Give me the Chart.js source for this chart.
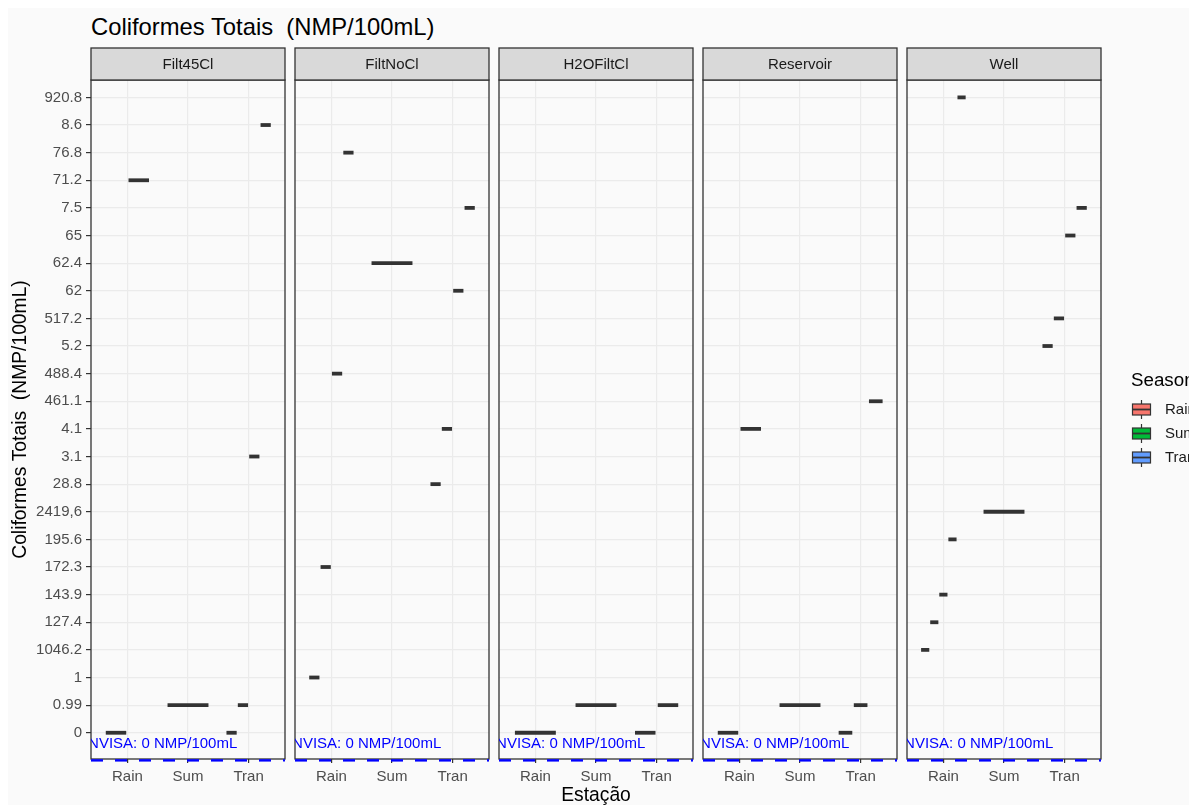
<!DOCTYPE html>
<html>
<head>
<meta charset="utf-8">
<title>Coliformes Totais (NMP/100mL)</title>
<script src="https://cdn.jsdelivr.net/npm/chart.js@4/dist/chart.umd.min.js"></script>
<style>
  html, body { margin: 0; padding: 0; width: 1189px; height: 805px; overflow: hidden; background: #ffffff; }
  body { position: relative; font-family: "Liberation Sans", Arial, sans-serif; }
  #sheet { position: absolute; left: 8px; top: 8px; width: 1181px; height: 797px; background: #FAFAFA; }
  #title { position: absolute; left: 91px; top: 15px; font-size: 23.8px; line-height: 24px; color: #000; white-space: pre; }
  canvas { position: absolute; top: 0; }
</style>
</head>
<body>
<div id="sheet"></div>
<div id="title">Coliformes Totais  (NMP/100mL)</div>
<script>
// y categories (the values are read as text, so they sort as strings)
const categories = ["0", "0.99", "1", "1046.2", "127.4", "143.9", "172.3", "195.6", "2419,6",
  "28.8", "3.1", "4.1", "461.1", "488.4", "5.2", "517.2", "62", "62.4", "65", "7.5",
  "71.2", "76.8", "8.6", "920.8"];
const stations = ["Rain", "Sum", "Tran"];
const facets = ["Filt45Cl", "FiltNoCl", "H2OFiltCl", "Reservoir", "Well"];

// samples per station (Rain, Sum, Tran) for each sampling point
const filt45Cl  = [["0", "71.2"], ["0.99"], ["0", "0.99", "3.1", "8.6"]];
const filtNoCl  = [["1", "172.3", "488.4", "76.8"], ["62.4"], ["28.8", "4.1", "62", "7.5"]];
const h2oFiltCl = [["0"], ["0.99"], ["0", "0.99"]];
const reservoir = [["0", "4.1"], ["0.99"], ["0", "0.99", "461.1"]];
const well      = [["1046.2", "127.4", "143.9", "195.6", "920.8"], ["2419,6"], ["5.2", "517.2", "65", "7.5"]];
const facetData = [filt45Cl, filtNoCl, h2oFiltCl, reservoir, well];

const seasons = ["Rain", "Sum", "Tran"];
const seasonColors = ["#F8766D", "#00BA38", "#619CFF"];

const anvisaLabel = "ANVISA: 0 NMP/100mL";
const anvisaLine = -1;            // reference line one step below the first category
const anvisaTextPos = { x: 1.5, y: -0.39 };

// layout
const FONT = '"Liberation Sans", Arial, sans-serif';
const panelLefts = [91, 295, 499, 703, 907];
const PANEL_W = 194, PANEL_TOP = 80, STRIP_TOP = 48, AXIS_H = 46, Y_AXIS_W = 91, EDGE = 6;
const PAGE_W = 1189, PAGE_H = 805;
const DODGE = 0.75, SHRINK = 0.9;

Chart.defaults.font.family = FONT;

// dodged, zero-height boxes: one short thick segment per sample
function boxDatasets(groups) {
  const sets = [];
  groups.forEach((vals, s) => {
    const n = vals.length, slot = DODGE / n;
    vals.forEach((v, k) => {
      const y = categories.indexOf(v);
      const c = s + 1 - DODGE / 2 + (k + 0.5) * slot;
      const hw = slot * SHRINK / 2;
      sets.push({
        data: [{ x: c - hw, y: y }, { x: c + hw, y: y }],
        borderColor: "#333333", borderWidth: 3.8, borderCapStyle: "butt",
        pointRadius: 0, fill: false, tension: 0
      });
    });
  });
  return sets;
}

const panelFrame = {
  id: "panelFrame",
  beforeDatasetsDraw(chart) {
    const { ctx, chartArea: a } = chart;
    ctx.save();
    ctx.strokeStyle = "#333333";
    ctx.lineWidth = 1.3;
    ctx.strokeRect(a.left, a.top, a.right - a.left, a.bottom - a.top);
    ctx.restore();
  },
  afterDraw(chart, args, opts) {
    const { ctx, chartArea: a } = chart;
    ctx.save();
    ctx.fillStyle = "#D9D9D9";
    ctx.fillRect(a.left, STRIP_TOP, a.right - a.left, a.top - STRIP_TOP);
    ctx.strokeStyle = "#333333";
    ctx.lineWidth = 1.3;
    ctx.strokeRect(a.left, STRIP_TOP, a.right - a.left, a.top - STRIP_TOP);
    ctx.fillStyle = "#1A1A1A";
    ctx.font = "15px " + FONT;
    ctx.textAlign = "center";
    ctx.textBaseline = "middle";
    ctx.fillText(opts.label, (a.left + a.right) / 2, (STRIP_TOP + a.top) / 2 + 1);
    ctx.restore();
  }
};

const anvisaText = {
  id: "anvisaText",
  afterDatasetsDraw(chart) {
    const { ctx, chartArea: a, scales: { x, y } } = chart;
    ctx.save();
    ctx.beginPath();
    ctx.rect(a.left, a.top, a.right - a.left, a.bottom - a.top);
    ctx.clip();
    ctx.fillStyle = "#0000FF";
    ctx.font = "15px " + FONT;
    ctx.textAlign = "center";
    ctx.textBaseline = "middle";
    ctx.fillText(anvisaLabel, x.getPixelForValue(anvisaTextPos.x), y.getPixelForValue(anvisaTextPos.y));
    ctx.restore();
  }
};

const seasonLegend = {
  id: "seasonLegend",
  afterDraw(chart, args, opts) {
    if (!opts.show) return;
    const { ctx, chartArea: a } = chart;
    const x0 = a.right + 30;
    ctx.save();
    ctx.fillStyle = "#000000";
    ctx.font = "18.75px " + FONT;
    ctx.textAlign = "left";
    ctx.textBaseline = "alphabetic";
    ctx.fillText("Season", x0, 386);
    seasons.forEach((s, i) => {
      const cy = 409.5 + 24 * i;
      const bx = x0 + 1.5, bw = 18, bh = 11;
      ctx.strokeStyle = "#333333";
      ctx.lineWidth = 1.2;
      ctx.beginPath();
      ctx.moveTo(bx + bw / 2, cy - 9.5);
      ctx.lineTo(bx + bw / 2, cy + 9.5);
      ctx.stroke();
      ctx.fillStyle = seasonColors[i];
      ctx.fillRect(bx, cy - bh / 2, bw, bh);
      ctx.strokeRect(bx, cy - bh / 2, bw, bh);
      ctx.lineWidth = 1.8;
      ctx.beginPath();
      ctx.moveTo(bx, cy);
      ctx.lineTo(bx + bw, cy);
      ctx.stroke();
      ctx.fillStyle = "#1A1A1A";
      ctx.font = "15px " + FONT;
      ctx.textBaseline = "middle";
      ctx.fillText(s, bx + bw + 14.5, cy + 0.5);
    });
    ctx.restore();
  }
};

facets.forEach((name, p) => {
  const first = p === 0, last = p === facets.length - 1;
  const left = first ? 0 : panelLefts[p] - EDGE;
  const padLeft = first ? 0 : EDGE;
  const padRight = last ? PAGE_W - (panelLefts[p] + PANEL_W) : EDGE;
  const width = (first ? Y_AXIS_W : 0) + padLeft + PANEL_W + padRight;

  const canvas = document.createElement("canvas");
  canvas.width = width;
  canvas.height = PAGE_H;
  canvas.style.left = left + "px";
  canvas.style.width = width + "px";
  canvas.style.height = PAGE_H + "px";
  document.body.appendChild(canvas);

  const datasets = boxDatasets(facetData[p]);
  datasets.push({
    data: [{ x: 0.4, y: anvisaLine }, { x: 3.6, y: anvisaLine }],
    borderColor: "#0000FF", borderWidth: 2.4, borderDash: [12, 12],
    pointRadius: 0, fill: false, clip: 4
  });

  new Chart(canvas, {
    type: "line",
    data: { datasets },
    plugins: [panelFrame, anvisaText, seasonLegend],
    options: {
      responsive: false,
      animation: false,
      events: [],
      layout: { padding: { left: padLeft, right: padRight, top: PANEL_TOP, bottom: 0 } },
      plugins: {
        legend: { display: false },
        tooltip: { enabled: false },
        panelFrame: { label: name },
        seasonLegend: { show: last }
      },
      scales: {
        x: {
          type: "linear", min: 0.4, max: 3.6, bounds: "data",
          afterBuildTicks: axis => { axis.ticks = stations.map((s, i) => ({ value: i + 1 })); },
          afterFit: axis => { axis.height = AXIS_H; },
          grid: { color: "#EBEBEB", lineWidth: 1.2, tickColor: "#333333", tickLength: 4, tickWidth: 1.2 },
          border: { display: false },
          ticks: { color: "#4D4D4D", font: { size: 15 }, padding: 5, maxRotation: 0, autoSkip: false,
                   callback: v => stations[v - 1] },
          title: { display: p === 2, text: "Estação", color: "#000000",
                   font: { size: 19.3, lineHeight: 1 }, padding: 0 }
        },
        y: {
          type: "linear", min: -0.95, max: 23.63, bounds: "data",
          afterBuildTicks: axis => { axis.ticks = categories.map((c, i) => ({ value: i })); },
          afterFit: axis => { axis.width = first ? Y_AXIS_W : 0; },
          grid: { color: "#EBEBEB", lineWidth: 1.2, drawTicks: first, tickColor: "#333333", tickLength: 5, tickWidth: 1.2 },
          border: { display: false },
          ticks: { display: first, color: "#4D4D4D", font: { size: 15 }, padding: 4, autoSkip: false,
                   callback: v => categories[v] },
          title: { display: first, text: "Coliformes Totais  (NMP/100mL)", color: "#000000",
                   font: { size: 19.3, lineHeight: 1.2 }, padding: { top: 9, bottom: 0 } }
        }
      }
    }
  });
});
</script>
</body>
</html>
